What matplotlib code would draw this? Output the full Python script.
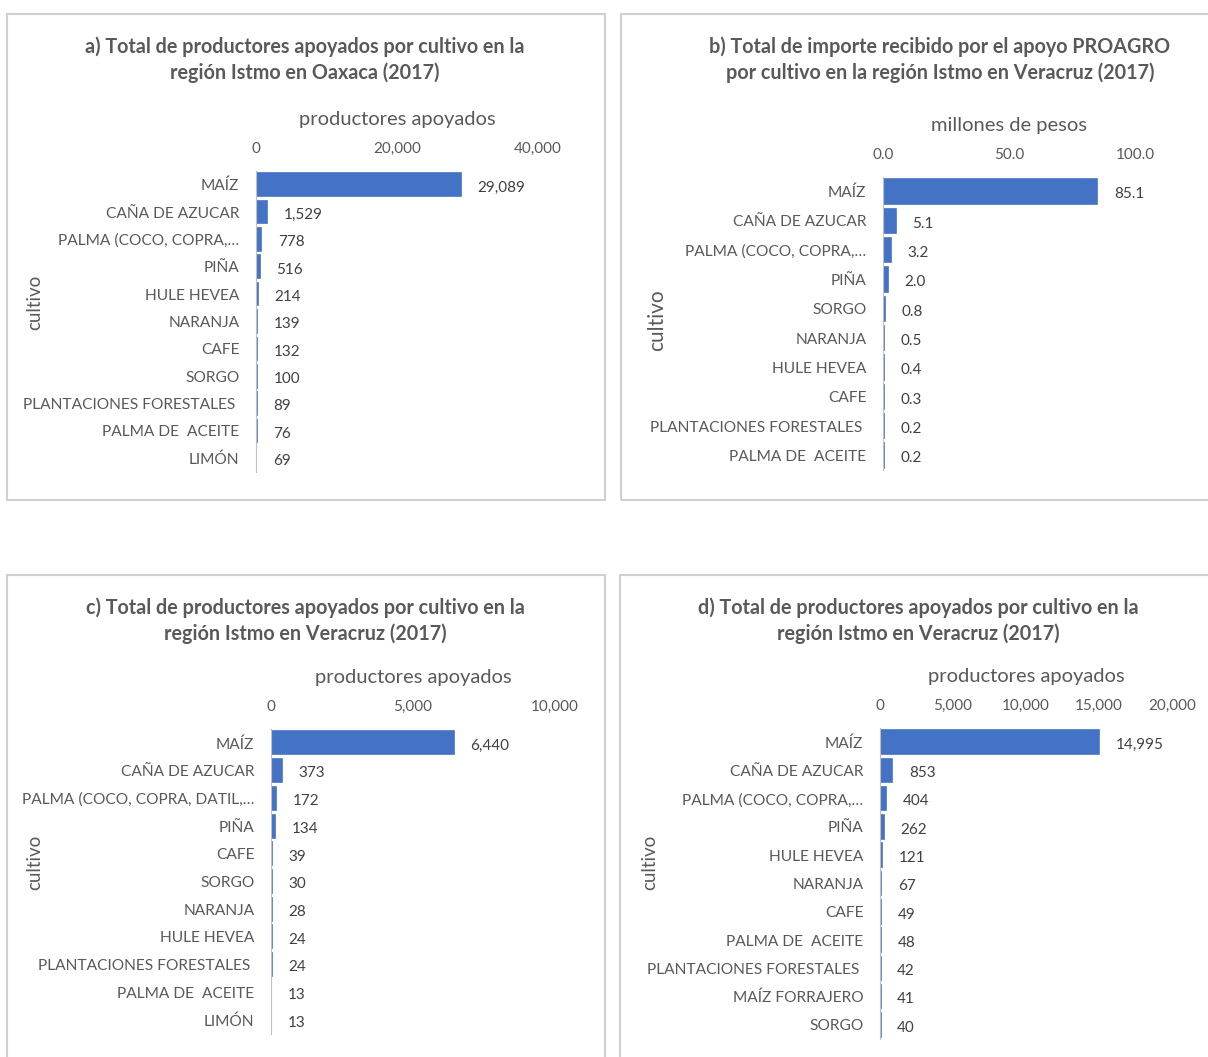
import matplotlib
matplotlib.use("Agg")
import matplotlib.pyplot as plt
from matplotlib.patches import Rectangle
from matplotlib.ticker import FuncFormatter

plt.rcParams['font.family'] = ['Lato', 'DejaVu Sans']

# datos de cada panel
cult_a = ["MAÍZ", "CAÑA DE AZUCAR", "PALMA (COCO, COPRA,…", "PIÑA", "HULE HEVEA", "NARANJA",
          "CAFE", "SORGO", "PLANTACIONES FORESTALES ", "PALMA DE  ACEITE", "LIMÓN"]
val_a = [29089, 1529, 778, 516, 214, 139, 132, 100, 89, 76, 69]

cult_b = ["MAÍZ", "CAÑA DE AZUCAR", "PALMA (COCO, COPRA,…", "PIÑA", "SORGO", "NARANJA",
          "HULE HEVEA", "CAFE", "PLANTACIONES FORESTALES ", "PALMA DE  ACEITE"]
val_b = [85.1, 5.1, 3.2, 2.0, 0.8, 0.5, 0.4, 0.3, 0.2, 0.2]

cult_c = ["MAÍZ", "CAÑA DE AZUCAR", "PALMA (COCO, COPRA, DATIL,…", "PIÑA", "CAFE", "SORGO",
          "NARANJA", "HULE HEVEA", "PLANTACIONES FORESTALES ", "PALMA DE  ACEITE", "LIMÓN"]
val_c = [6440, 373, 172, 134, 39, 30, 28, 24, 24, 13, 13]

cult_d = ["MAÍZ", "CAÑA DE AZUCAR", "PALMA (COCO, COPRA,…", "PIÑA", "HULE HEVEA", "NARANJA",
          "CAFE", "PALMA DE  ACEITE", "PLANTACIONES FORESTALES ", "MAÍZ FORRAJERO", "SORGO"]
val_d = [14995, 853, 404, 262, 121, 67, 49, 48, 42, 41, 40]

W, H = 1208, 1057
fig = plt.figure(figsize=(W / 100, H / 100), dpi=100)

AZUL = "#4472C4"
GRIS = "#595959"


def caja(x0, y0, x1, y1):
    fig.patches.append(Rectangle((x0 / W, 1 - y1 / H), (x1 - x0) / W, (y1 - y0) / H,
                                 transform=fig.transFigure, fill=False,
                                 edgecolor="#d0d0d0", linewidth=1.5))


def panel(cult, vals, px, xmax, ticks, fmt, titulo, tx, ty, xlab, ylx, yly, ylsize=13.5):
    x0, x1, y0, y1 = px
    ax = fig.add_axes([x0 / W, 1 - y1 / H, (x1 - x0) / W, (y1 - y0) / H])
    pos = range(len(cult))
    # borde del mismo color para que las barras pequeñas se vean como en Excel
    ax.barh(pos, vals, height=0.83, color=AZUL, edgecolor=AZUL, linewidth=1.2)
    ax.set_ylim(len(cult) - 0.5, -0.5)
    ax.set_xlim(0, xmax)
    ax.set_xticks(ticks)
    ax.xaxis.set_major_formatter(FuncFormatter(lambda v, p: fmt.format(v)))
    ax.xaxis.tick_top()
    ax.xaxis.set_label_position("top")
    ax.tick_params(axis="x", length=0, pad=11, labelsize=11, labelcolor=GRIS)
    ax.tick_params(axis="y", length=0, pad=12, labelsize=11.2, labelcolor=GRIS)
    ax.set_yticks(list(pos))
    ax.set_yticklabels(cult)
    ax.set_xlabel(xlab, fontsize=14.5, color=GRIS, labelpad=12)
    for s in ["top", "right", "bottom"]:
        ax.spines[s].set_visible(False)
    ax.spines["left"].set_color("#bfbfbf")
    for i, v in enumerate(vals):
        ax.annotate(fmt.format(v), (v, i), xytext=(12, -2), textcoords="offset points",
                    va="center", ha="left", fontsize=11, color="#404040")
    fig.text(tx / W, 1 - ty / H, titulo, ha="center", va="center", fontsize=14.2,
             fontweight="bold", color=GRIS, linespacing=1.35)
    fig.text(ylx / W, 1 - yly / H, "cultivo", rotation=90, ha="center", va="center",
             fontsize=ylsize, color=GRIS)


caja(7, 14, 605, 500)
caja(621, 14, 1215, 500)
caja(7, 575, 605, 1065)
caja(620, 575, 1215, 1065)

panel(cult_a, val_a, (256, 538, 171, 472), 40000, [0, 20000, 40000], "{:,.0f}",
      "a) Total de productores apoyados por cultivo en la\nregión Istmo en Oaxaca (2017)",
      305, 60, "productores apoyados", 35, 302)
panel(cult_b, val_b, (883, 1135, 177, 470), 100, [0, 50, 100], "{:.1f}",
      "b) Total de importe recibido por el apoyo PROAGRO\npor cultivo en la región Istmo en Veracruz (2017)",
      940, 60, "millones de pesos", 657, 320, ylsize=15)
panel(cult_c, val_c, (271, 555, 729, 1034), 10000, [0, 5000, 10000], "{:,.0f}",
      "c) Total de productores apoyados por cultivo en la\nregión Istmo en Veracruz (2017)",
      305, 621, "productores apoyados", 35, 862)
panel(cult_d, val_d, (880, 1172, 728, 1039), 20000, [0, 5000, 10000, 15000, 20000], "{:,.0f}",
      "d) Total de productores apoyados por cultivo en la\nregión Istmo en Veracruz (2017)",
      918, 621, "productores apoyados", 650, 862)

fig.savefig("out.png", dpi=100)
